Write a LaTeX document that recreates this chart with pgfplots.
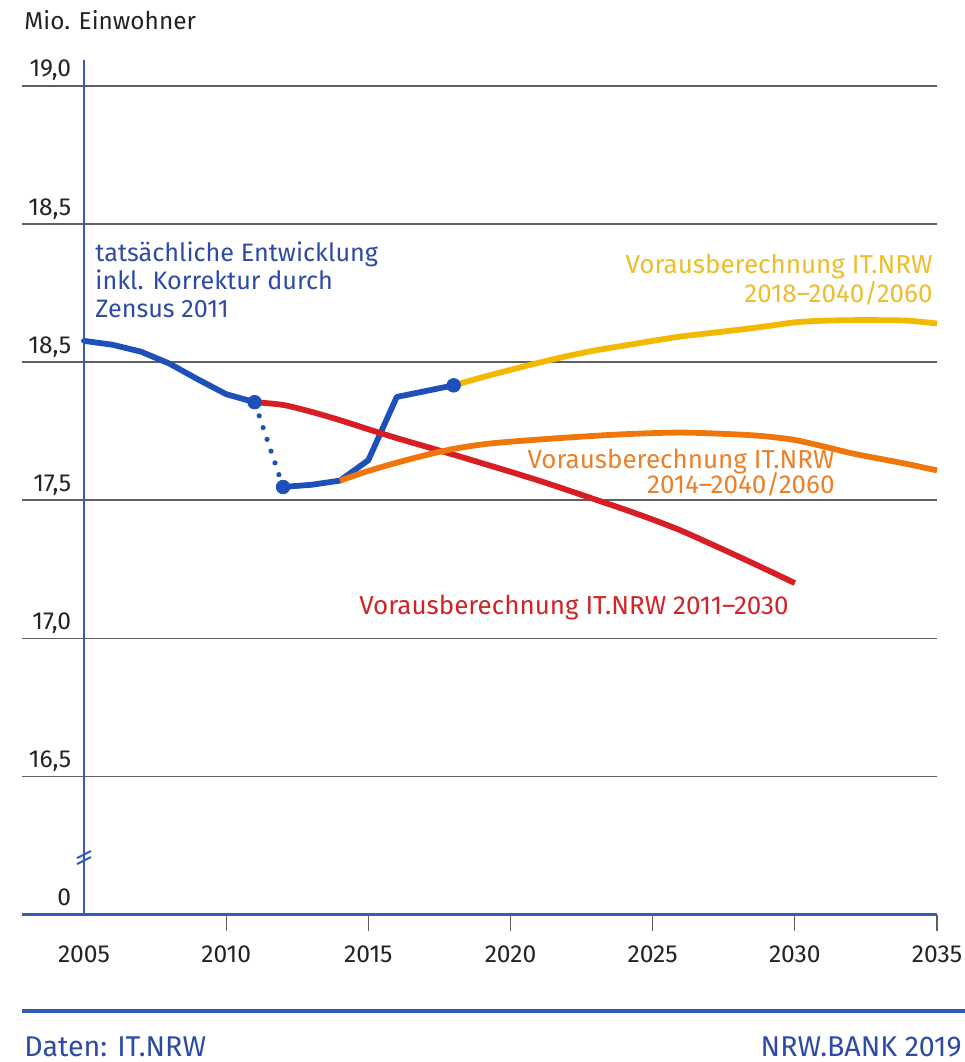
\documentclass[border=0pt]{standalone}
\usepackage{fontspec}
\setmainfont{Fira Sans}
\usepackage{pgfplots}
\pgfplotsset{compat=1.18}
\definecolor{lineblue}{RGB}{30,80,185}
\definecolor{textblue}{RGB}{45,75,165}
\definecolor{axisblue}{RGB}{55,90,180}
\definecolor{nrwred}{RGB}{214,30,36}
\definecolor{nrworange}{RGB}{238,118,10}
\definecolor{nrwyellow}{RGB}{243,184,0}
\definecolor{ytext}{RGB}{236,190,45}
\definecolor{otext}{RGB}{236,128,40}
\definecolor{rtext}{RGB}{208,36,40}
\definecolor{gridgray}{RGB}{95,95,95}
\definecolor{labgray}{RGB}{35,35,35}
\begin{document}
\begin{tikzpicture}
\path[use as bounding box] (0,0) rectangle (482.5pt,-531pt);
\begin{axis}[
  at={(11pt,-457.25pt)}, anchor=south west,
  scale only axis, width=457.5pt, height=427.25pt,
  xmin=2002.819, xmax=2035, ymin=16, ymax=19.094,
  axis x line*=bottom, axis y line*=left,
  axis line style={draw=none},
  clip=false,
  xtick={2010,2015,2020,2025,2030,2035},
  xticklabels={2010,2015,2020,2025,2030,2035},
  extra x ticks={2005}, extra x tick labels={2005},
  extra x tick style={major tick length=0pt, xticklabel style={yshift=-8pt}},
  tick align=outside,
  xtick style={draw=gridgray, line width=0.6pt},
  major tick length=8pt,
  ytick={16,16.5,17,17.5,18,18.5,19},
  yticklabels={0,{16,5},{17,0},{17,5},{18,5},{18,5},{19,0}},
  ytick style={draw=none},
  ymajorgrids,
  major grid style={draw=gridgray, line width=0.8pt},
  ticklabel style={font=\fontsize{12.3}{14}\selectfont, text=labgray, inner sep=0pt},
  xticklabel style={anchor=base, yshift=-16pt},
  yticklabel style={anchor=base east, xshift=32.75pt, yshift=4.5pt},
]
% Actual development
\addplot[lineblue, line width=2.9pt, line join=round, line cap=round] coordinates {
 (2005,18.077) (2006,18.063) (2007,18.038) (2008,17.995) (2009,17.938) (2010,17.884) (2011,17.855)};
\addplot[lineblue, line width=2.6pt, line cap=round, dash pattern=on 0pt off 6.2pt, dash phase=-1pt] coordinates {
 (2011,17.855) (2012,17.548)};
\addplot[lineblue, line width=2.9pt, line join=round, line cap=round] coordinates {
 (2012,17.548) (2013,17.556) (2014,17.571) (2015,17.645) (2016,17.874) (2017,17.895) (2018,17.916)};
% Projection 2011-2030
\addplot[nrwred, line width=2.9pt, smooth] coordinates {
 (2011,17.855) (2012,17.845) (2013,17.820) (2014,17.790) (2015,17.757) (2016,17.725) (2017,17.695)
 (2018,17.665) (2019,17.634) (2020,17.603) (2021,17.571) (2022,17.537) (2023,17.502) (2024,17.467)
 (2025,17.430) (2026,17.390) (2027,17.344) (2028,17.297) (2029,17.249) (2030,17.200)};
% Projection 2014-2040/2060
\addplot[nrworange, line width=2.9pt, smooth] coordinates {
 (2014,17.571) (2015,17.606) (2016,17.636) (2017,17.663) (2018,17.686) (2019,17.702) (2020,17.712)
 (2022,17.727) (2024,17.739) (2026,17.745) (2028,17.738) (2029,17.731) (2030,17.718) (2031,17.695)
 (2032,17.670) (2033,17.650) (2034,17.630) (2035,17.608)};
% Projection 2018-2040/2060
\addplot[nrwyellow, line width=2.9pt, smooth] coordinates {
 (2018,17.916) (2019,17.945) (2020,17.972) (2021,17.998) (2022,18.022) (2023,18.043) (2024,18.060)
 (2025,18.077) (2026,18.093) (2027,18.105) (2028,18.117) (2029,18.130) (2030,18.144) (2031,18.150)
 (2032,18.152) (2033,18.152) (2034,18.150) (2035,18.140)};
% markers
\addplot[only marks, mark=*, mark size=3.4pt, lineblue] coordinates {(2011,17.855) (2012,17.548) (2018,17.916)};
\end{axis}
\begin{scope}[x=0.5pt,y=-0.5pt]
% axes lines
\draw[axisblue, line width=1.25pt] (84,60) -- (84,914.5);
\draw[axisblue, line width=1.25pt] (22,914.5) -- (937,914.5);
% axis break
\draw[axisblue, line width=1pt] (77,858) -- (91,851);
\draw[axisblue, line width=1pt] (77,864) -- (91,857);
% header
\node[anchor=base west, inner sep=0pt, text=labgray, font=\fontsize{12.2}{14}\selectfont] at (24,29.5) {Mio. Einwohner};
% annotations
\begin{scope}[every node/.style={inner sep=0pt, font=\fontsize{13}{15}\selectfont}]
\node[anchor=base west, text=textblue, font=\fontsize{12.6}{15}\selectfont] at (95,261.7) {tatsächliche Entwicklung};
\node[anchor=base west, text=textblue, font=\fontsize{12.6}{15}\selectfont] at (95,289.5) {inkl. Korrektur durch};
\node[anchor=base west, text=textblue, font=\fontsize{12.6}{15}\selectfont] at (95,317.3) {Zensus 2011};
\node[anchor=base east, text=ytext] at (933,273.5) {Vorausberechnung IT.NRW};
\node[anchor=base east, text=ytext] at (933,302) {2018--2040/2060};
\node[anchor=base east, text=otext] at (835,468.3) {Vorausberechnung IT.NRW};
\node[anchor=base east, text=otext] at (835,493.3) {2014--2040/2060};
\node[anchor=base east, text=rtext] at (789,614) {Vorausberechnung IT.NRW 2011--2030};
\end{scope}
% footer
\draw[axisblue, line width=2pt] (22,1011) -- (965,1011);
\node[anchor=base west, inner sep=0pt, text=textblue, font=\fontsize{14.3}{16}\selectfont] at (24,1056) {Daten: IT.NRW};
\node[anchor=base east, inner sep=0pt, text=textblue, font=\fontsize{14.3}{16}\selectfont] at (962,1056) {NRW.BANK 2019};
\end{scope}
\end{tikzpicture}
\end{document}
